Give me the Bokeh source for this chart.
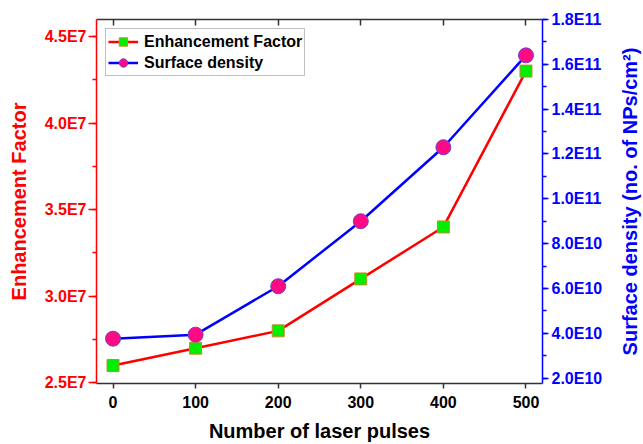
from bokeh.plotting import figure
from bokeh.layouts import row
from bokeh.models import (Range1d, LinearAxis, SingleIntervalTicker,
                          CustomJSTickFormatter, Legend, LegendItem)
from bokeh.embed import file_html
from bokeh.resources import INLINE

# ---- data ----
pulses = [0, 100, 200, 300, 400, 500]
enhancement = [2.6e7, 2.7e7, 2.8e7, 3.1e7, 3.4e7, 4.3e7]
density = [3.76e10, 3.94e10, 6.1e10, 9.0e10, 1.23e11, 1.64e11]

x_title = "Number of laser pulses"
left_title = "Enhancement Factor"
right_title = "Surface density (no. of NPs/cm\u00b2)"
series_names = ["Enhancement Factor", "Surface density"]

FONT = "Liberation Sans"
RED = "#ff0000"
BLUE = "#0000ff"

W, H = 643, 444
SIDE_W = 38
B_LEFT, B_RIGHT, B_TOP, B_BOTTOM = 96, 63, 19, 61

sci_fmt = CustomJSTickFormatter(code="""
if (tick == 0) return "0";
const e = Math.floor(Math.log10(Math.abs(tick)) + 1e-9);
const m = tick / Math.pow(10, e);
return m.toFixed(1) + "E" + e;
""")

p = figure(width=W - SIDE_W, height=H, output_backend="svg", toolbar_location=None,
           x_range=Range1d(-20, 520), y_range=Range1d(2.496e7, 4.598e7),
           min_border_left=B_LEFT, min_border_right=B_RIGHT,
           min_border_top=B_TOP, min_border_bottom=B_BOTTOM)
p.extra_y_ranges = {"sd": Range1d(1.76e10, 1.8e11)}
p.grid.grid_line_color = None
p.outline_line_color = None
p.background_fill_color = "white"
p.border_fill_color = "white"

# bottom axis
xa = p.xaxis[0]
xa.ticker = SingleIntervalTicker(interval=100, num_minor_ticks=0)
xa.axis_label = x_title
xa.axis_label_text_font = FONT
xa.axis_label_text_font_style = "bold"
xa.axis_label_text_font_size = "20px"
xa.axis_label_text_color = "black"
xa.axis_label_standoff = 9
xa.major_label_text_font = FONT
xa.major_label_text_font_style = "bold"
xa.major_label_text_font_size = "16px"
xa.major_label_text_color = "black"
xa.major_label_standoff = 7
xa.major_tick_out = 5
xa.major_tick_in = 0
xa.minor_tick_out = 0
xa.axis_line_color = "#333333"
xa.axis_line_width = 1.5
xa.major_tick_line_color = "#333333"
xa.major_tick_line_width = 1.5

# left axis
ya = p.yaxis[0]
ya.ticker = SingleIntervalTicker(interval=5e6, num_minor_ticks=2)
ya.formatter = sci_fmt
ya.axis_label = left_title
ya.axis_label_text_font = FONT
ya.axis_label_text_font_style = "bold"
ya.axis_label_text_font_size = "20px"
ya.axis_label_text_color = RED
ya.axis_label_standoff = 12
ya.major_label_text_font = FONT
ya.major_label_text_font_style = "bold"
ya.major_label_text_font_size = "16px"
ya.major_label_text_color = RED
ya.major_label_standoff = 2
ya.major_tick_out = 8
ya.major_tick_in = 0
ya.minor_tick_out = 4
ya.minor_tick_in = 0
ya.axis_line_color = RED
ya.axis_line_width = 1.5
ya.major_tick_line_color = RED
ya.major_tick_line_width = 1.5
ya.minor_tick_line_color = RED
ya.minor_tick_line_width = 1.5

# right axis
ra = LinearAxis(y_range_name="sd",
                ticker=SingleIntervalTicker(interval=2e10, num_minor_ticks=2),
                formatter=sci_fmt)
ra.major_label_text_font = FONT
ra.major_label_text_font_style = "bold"
ra.major_label_text_font_size = "16px"
ra.major_label_text_color = BLUE
ra.major_label_standoff = 3
ra.major_tick_out = 6
ra.major_tick_in = 0
ra.minor_tick_out = 4
ra.minor_tick_in = 0
ra.axis_line_color = BLUE
ra.axis_line_width = 1.5
ra.major_tick_line_color = BLUE
ra.major_tick_line_width = 1.5
ra.minor_tick_line_color = BLUE
ra.minor_tick_line_width = 1.5
p.add_layout(ra, "right")

# top axis (mirror, ticks inward, no labels)
ta = LinearAxis(ticker=SingleIntervalTicker(interval=100, num_minor_ticks=0))
ta.major_tick_in = 6
ta.major_tick_out = 0
ta.minor_tick_in = 0
ta.minor_tick_out = 0
ta.major_label_text_font_size = "1px"
ta.major_label_text_alpha = 0
ta.major_label_standoff = 0
ta.axis_line_color = "#333333"
ta.axis_line_width = 1.5
ta.major_tick_line_color = "#333333"
ta.major_tick_line_width = 1.5
p.add_layout(ta, "above")

# series
l1 = p.line(pulses, enhancement, line_color=RED, line_width=2.5)
s1 = p.scatter(pulses, enhancement, marker="square", size=12,
               fill_color="#00ee00", line_color="#c98a2a", line_width=1)
l2 = p.line(pulses, density, line_color=BLUE, line_width=2.5, y_range_name="sd")
s2 = p.scatter(pulses, density, marker="circle", size=15,
               fill_color="#ff0a84", line_color="#7040c0", line_width=1,
               y_range_name="sd")

legend = Legend(items=[LegendItem(label=series_names[0], renderers=[l1, s1]),
                       LegendItem(label=series_names[1], renderers=[l2, s2])],
                location="top_left")
legend.label_text_font = FONT
legend.label_text_font_style = "bold"
legend.label_text_font_size = "16px"
legend.label_text_color = "black"
legend.glyph_width = 30
legend.glyph_height = 21
legend.label_height = 21
legend.spacing = 0
legend.padding = 2
legend.margin = 9
legend.label_standoff = 6
legend.border_line_color = "#808080"
legend.border_line_width = 1.5
legend.background_fill_alpha = 1
p.add_layout(legend)

# narrow side panel carrying the right-hand title (reads bottom-to-top)
side = figure(width=SIDE_W, height=H, output_backend="svg", toolbar_location=None,
              x_range=Range1d(0, 1), y_range=Range1d(0, 1),
              x_axis_location=None, min_border_left=35, min_border_right=0,
              min_border_top=B_TOP, min_border_bottom=B_BOTTOM)
side.grid.grid_line_color = None
side.outline_line_color = None
side.border_fill_color = "white"
side.background_fill_color = "white"
sa = side.yaxis[0]
sa.axis_label = right_title
sa.axis_label_text_font = FONT
sa.axis_label_text_font_style = "bold"
sa.axis_label_text_font_size = "20px"
sa.axis_label_text_color = BLUE
sa.axis_label_standoff = 0
sa.major_label_text_font_size = "1px"
sa.major_label_text_alpha = 0
sa.major_label_standoff = 0
sa.major_tick_out = 0
sa.major_tick_in = 0
sa.minor_tick_out = 0
sa.minor_tick_in = 0
sa.axis_line_color = None
sa.major_tick_line_color = None
sa.minor_tick_line_color = None

layout = row(p, side, spacing=0)
open("out.html", "w").write(file_html(layout, INLINE))
